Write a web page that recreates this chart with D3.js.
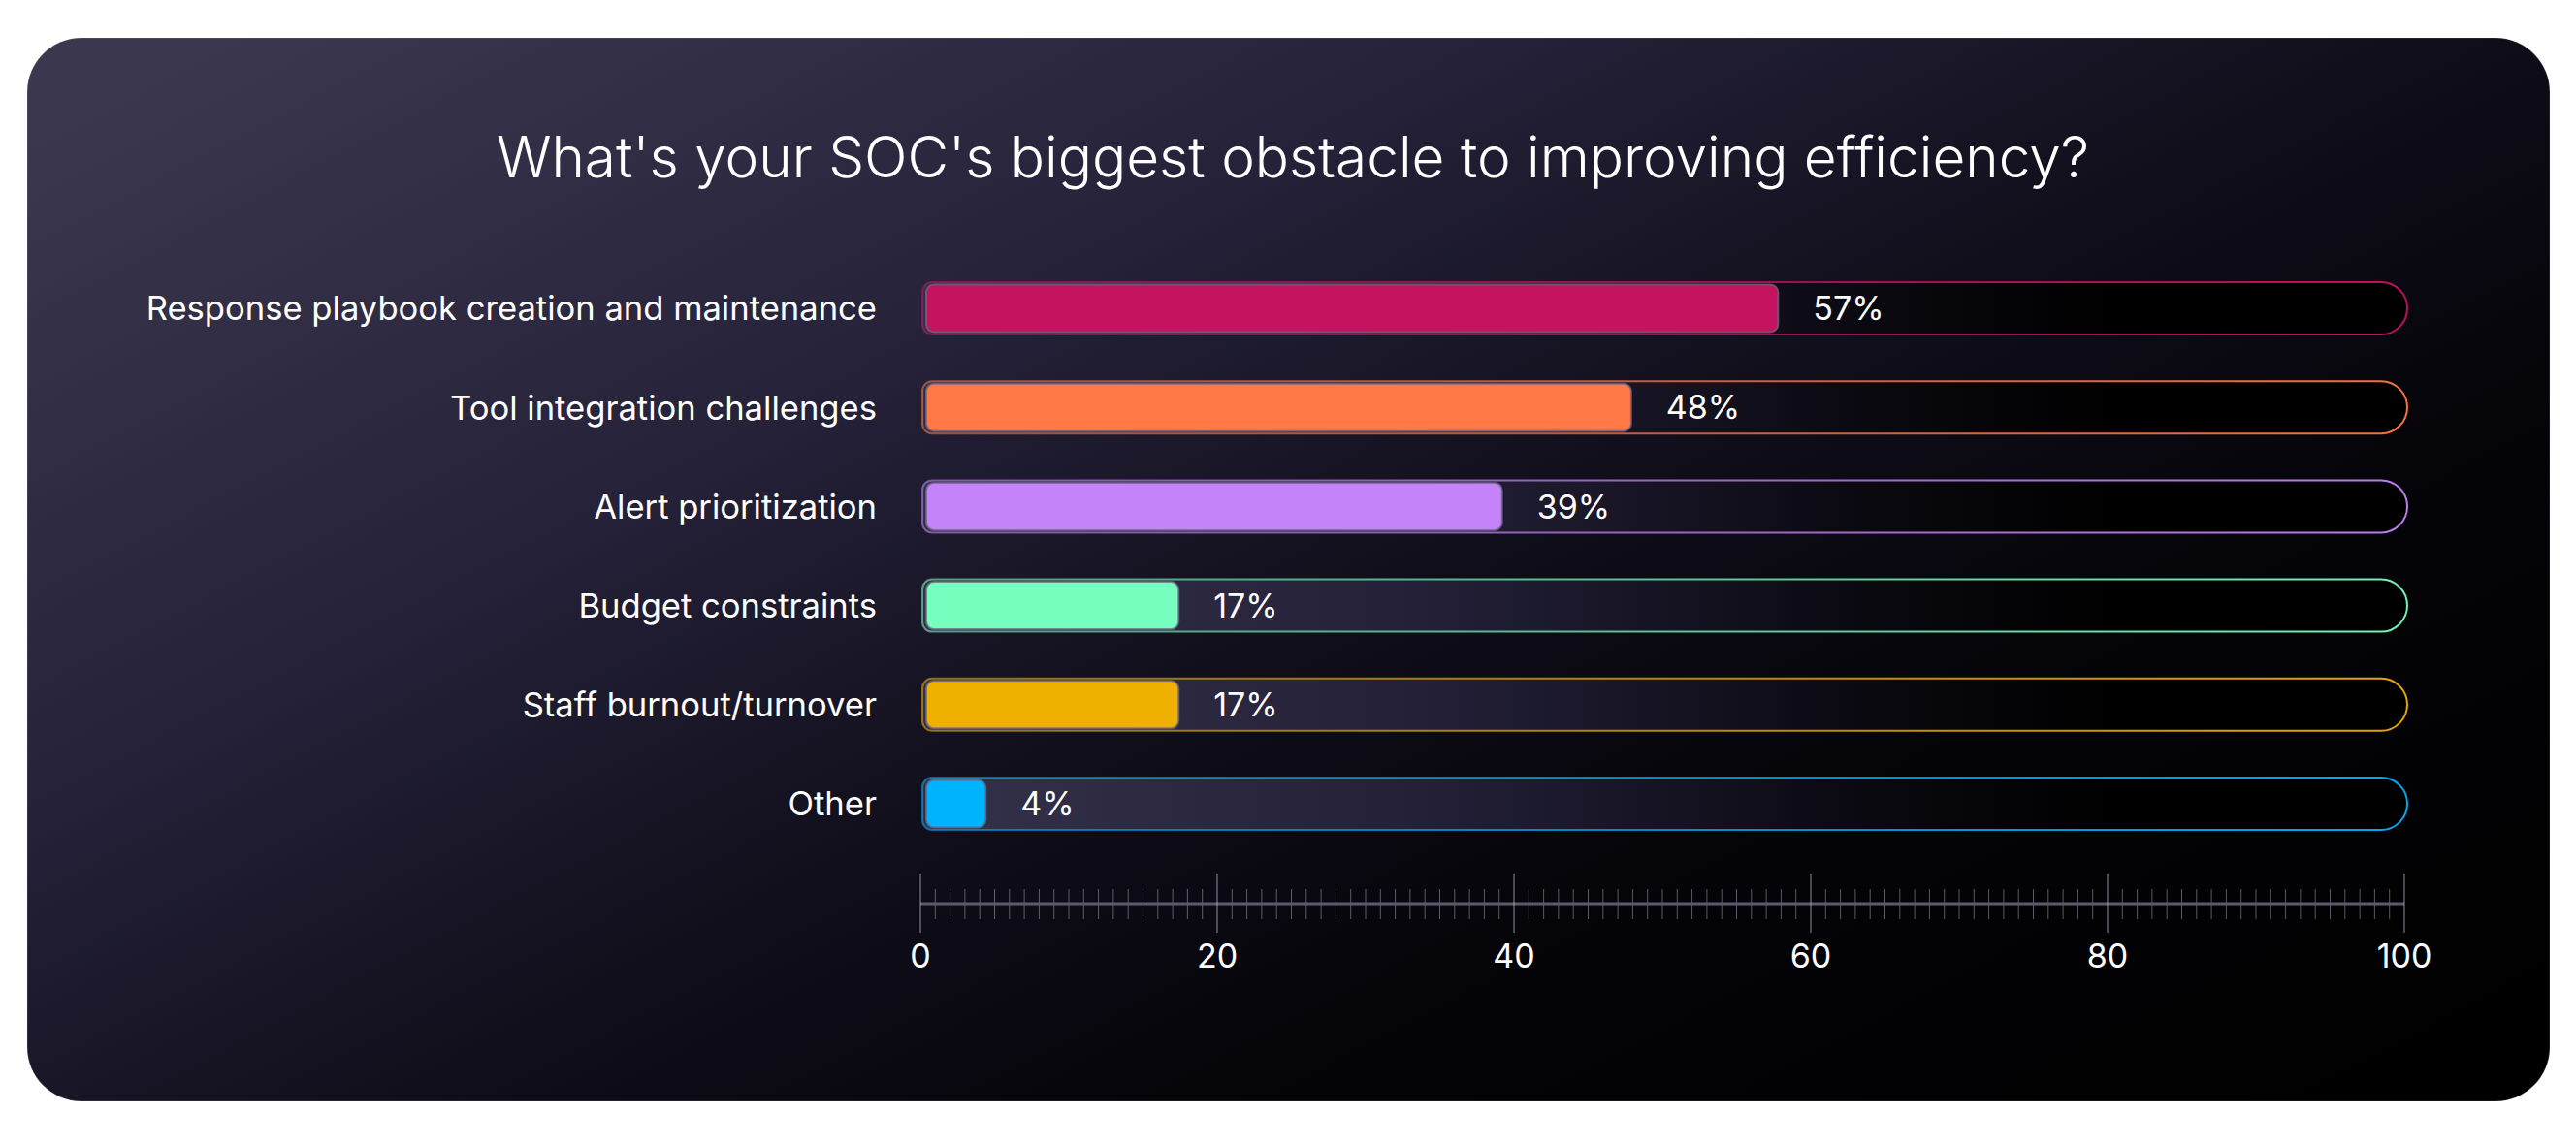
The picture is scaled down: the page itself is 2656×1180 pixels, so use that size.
<!DOCTYPE html>
<html>
<head>
<meta charset="utf-8">
<script src="https://cdn.jsdelivr.net/npm/d3@7"></script>
<style>
	body { margin: 0; background: #ffffff; }
	svg { display: block; font-family: Inter, "Noto Sans", sans-serif; }
</style>
</head>
<body>
<div id="chart-area"></div>
<script>

// Survey answers, top to bottom
const categories = [
	"Response playbook creation and maintenance",
	"Tool integration challenges",
	"Alert prioritization",
	"Budget constraints",
	"Staff burnout/turnover",
	"Other"
];

// bar lengths (percent)
const values = [57.8, 47.9, 39.2, 17.4, 17.4, 4.4];

// printed labels
const valueLabels = ["57%", "48%", "39%", "17%", "17%", "4%"];

const barColors = ["#c4135f", "#ff7845", "#c583f9", "#77ffbf", "#efb000", "#00b3ff"];

const axisTicks = [0, 20, 40, 60, 80, 100];

const titleText = "What's your SOC's biggest obstacle to improving efficiency?";


class ObstacleVis {

	constructor(_parentElement) {
		this.parentElement = _parentElement;
		this.initVis();
	}

	initVis() {
		let vis = this;

		vis.width = 2656;
		vis.height = 1180;

		vis.svg = d3.select("#" + vis.parentElement).append("svg")
			.attr("width", vis.width)
			.attr("height", vis.height);

		let defs = vis.svg.append("defs");

		// card background, purple-grey top left fading to black bottom right
		let bg = defs.append("linearGradient")
			.attr("id", "card-bg")
			.attr("x1", 0).attr("y1", 0.1)
			.attr("x2", 1).attr("y2", 0.9);
		[[0, "#3a374e"], [0.3, "#25223a"], [0.55, "#0f0d18"], [0.75, "#040307"], [1, "#000000"]]
			.forEach(s => bg.append("stop").attr("offset", s[0]).attr("stop-color", s[1]));

		// track fill
		let tr = defs.append("linearGradient")
			.attr("id", "track-bg")
			.attr("x1", 0).attr("y1", 0)
			.attr("x2", 1).attr("y2", 0);
		[[0, "#34314a"], [0.35, "#221f36"], [0.62, "#0b0a12"], [0.8, "#000000"], [1, "#000000"]]
			.forEach(s => tr.append("stop").attr("offset", s[0]).attr("stop-color", s[1]));

		// one stroke gradient per colour
		barColors.forEach((c, i) => {
			let g = defs.append("linearGradient")
				.attr("id", "track-stroke-" + i)
				.attr("x1", 0).attr("y1", 0)
				.attr("x2", 1).attr("y2", 0);
			g.append("stop").attr("offset", 0).attr("stop-color", c).attr("stop-opacity", 0.55);
			g.append("stop").attr("offset", 1).attr("stop-color", c).attr("stop-opacity", 0.95);
		});

		vis.svg.append("rect")
			.attr("x", 28)
			.attr("y", 39)
			.attr("width", 2601)
			.attr("height", 1097)
			.attr("rx", 56)
			.attr("fill", "url(#card-bg)")
			.attr("stroke", "rgba(255,255,255,0.12)")
			.attr("stroke-width", 1.5);

		vis.svg.append("text")
			.attr("x", 1333)
			.attr("y", 183)
			.attr("text-anchor", "middle")
			.attr("fill", "#ffffff")
			.attr("style", "font-size: 58.5px; font-weight: 300")
			.text(titleText);

		// Scales
		vis.x = d3.scaleLinear()
			.domain([0, 100])
			.range([949, 2479]);

		vis.y = d3.scalePoint()
			.domain(categories)
			.range([318, 829]);

		vis.trackH = 54;
		vis.fillH = 49;

		vis.wrangleData();
	}

	wrangleData() {
		let vis = this;

		vis.displayData = categories.map((c, i) => ({
			name: c,
			value: values[i],
			label: valueLabels[i],
			color: barColors[i],
			index: i
		}));

		vis.updateVis();
	}

	// rounded rect with a small left radius and a pill shaped right end
	trackPath(x0, x1, cy, h, rl) {
		let y0 = cy - h / 2, y1 = cy + h / 2, rr = h / 2;
		return "M" + (x0 + rl) + "," + y0 +
			"H" + (x1 - rr) +
			"A" + rr + "," + rr + " 0 0 1 " + (x1 - rr) + "," + y1 +
			"H" + (x0 + rl) +
			"A" + rl + "," + rl + " 0 0 1 " + x0 + "," + (y1 - rl) +
			"V" + (y0 + rl) +
			"A" + rl + "," + rl + " 0 0 1 " + (x0 + rl) + "," + y0 + "Z";
	}

	updateVis() {
		let vis = this;

		let rows = vis.svg.selectAll(".row")
			.data(vis.displayData)
			.enter().append("g")
			.attr("class", "row");

		rows.append("path")
			.attr("d", d => vis.trackPath(vis.x(0) + 2, vis.x(100) + 3, vis.y(d.name), vis.trackH, 10))
			.attr("fill", "url(#track-bg)")
			.attr("stroke", d => "url(#track-stroke-" + d.index + ")")
			.attr("stroke-width", 2);

		rows.append("rect")
			.attr("x", vis.x(0) + 6)
			.attr("y", d => vis.y(d.name) - vis.fillH / 2)
			.attr("width", d => vis.x(d.value) - vis.x(0) - 6)
			.attr("height", vis.fillH)
			.attr("rx", 8)
			.attr("fill", d => d.color)
			.attr("stroke", "rgba(110,104,130,0.75)")
			.attr("stroke-width", 2);

		rows.append("text")
			.attr("x", vis.x(0) - 45)
			.attr("y", d => vis.y(d.name))
			.attr("dy", "0.36em")
			.attr("text-anchor", "end")
			.attr("fill", "#ffffff")
			.attr("style", "font-size: 34.6px")
			.text(d => d.name);

		rows.append("text")
			.attr("x", d => vis.x(d.value) + 36)
			.attr("y", d => vis.y(d.name))
			.attr("dy", "0.36em")
			.attr("fill", "#ffffff")
			.attr("style", "font-size: 34px")
			.text(d => d.label);

		// Ruler style axis
		let axisY = 932;
		let axis = vis.svg.append("g").attr("class", "ruler");

		axis.selectAll(".minor")
			.data(d3.range(1, 100).filter(v => v % 20 !== 0))
			.enter().append("line")
			.attr("class", "minor")
			.attr("x1", d => vis.x(d)).attr("x2", d => vis.x(d))
			.attr("y1", axisY - 15).attr("y2", axisY + 16)
			.attr("stroke", "rgba(200,196,220,0.45)")
			.attr("stroke-width", 1);

		axis.append("line")
			.attr("x1", vis.x(0)).attr("x2", vis.x(100))
			.attr("y1", axisY).attr("y2", axisY)
			.attr("stroke", "#5c5a6e")
			.attr("stroke-width", 3);

		axis.selectAll(".major")
			.data(axisTicks)
			.enter().append("line")
			.attr("class", "major")
			.attr("x1", d => vis.x(d)).attr("x2", d => vis.x(d))
			.attr("y1", axisY - 31).attr("y2", axisY + 30)
			.attr("stroke", "rgba(200,196,220,0.6)")
			.attr("stroke-width", 1.2);

		axis.selectAll(".tick-label")
			.data(axisTicks)
			.enter().append("text")
			.attr("class", "tick-label")
			.attr("x", d => vis.x(d))
			.attr("y", 998)
			.attr("text-anchor", "middle")
			.attr("fill", "#ffffff")
			.attr("style", "font-size: 34px")
			.text(d => d);
	}
}

let obstacleVis = new ObstacleVis("chart-area");

</script>
</body>
</html>
